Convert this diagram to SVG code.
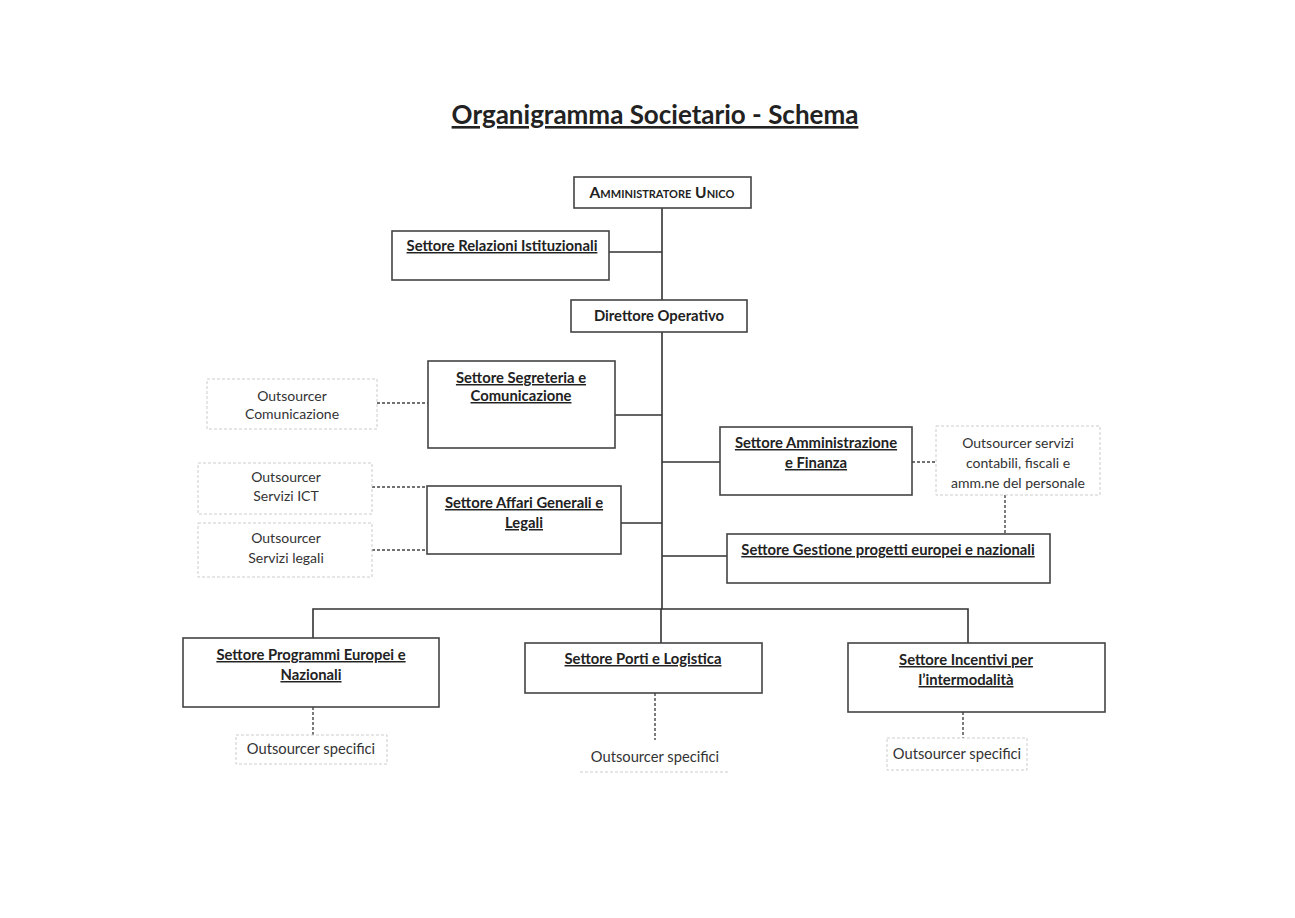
<svg xmlns="http://www.w3.org/2000/svg" width="1295" height="918" viewBox="0 0 1295 918">
<style>
text{font-family:Lato,"Open Sans","Liberation Sans",sans-serif;fill:#222;text-anchor:middle}
.b{font-weight:bold;font-size:14.8px;text-decoration:underline}
.o{font-size:14px;fill:#333}
.s{font-size:14.7px;fill:#333}
.box{fill:#fff;stroke:#444;stroke-width:1.6}
.obox{fill:#fff;stroke:#ccc;stroke-width:1;stroke-dasharray:3 2}
.ln{stroke:#333;stroke-width:1.6;fill:none}
.dl{stroke:#444;stroke-width:1.4;fill:none;stroke-dasharray:3 2}
</style>
<rect width="1295" height="918" fill="#fff"/>
<text x="655" y="124" style="font-weight:bold;font-size:26px;text-decoration:underline">Organigramma Societario - Schema</text>
<g id="connectors">
<path class="ln" d="M662 208V609M609 252H662M615 415H662M621 523H662M662 462H720M662 556H727M313 638V609H968V643M661 609V643"/>
<path class="dl" d="M377 403H428M372 487H428M372 550H428M912 462H937M1005 495V534M313 707V735M655 693V740M963 712V738"/>
</g>
<g id="amministratore"><rect class="box" x="574" y="177" width="177" height="31"/><text x="662" y="198" style="font-weight:bold;font-size:15.5px;font-variant:small-caps">Amministratore Unico</text></g>
<g id="relazioni"><rect class="box" x="392" y="231" width="217" height="49"/><text class="b" x="502" y="251">Settore Relazioni Istituzionali</text></g>
<g id="direttore"><rect class="box" x="571" y="300" width="176" height="32"/><text x="659" y="321" style="font-weight:bold;font-size:14.8px">Direttore Operativo</text></g>
<g id="out-comunicazione"><rect class="obox" x="207" y="379" width="170" height="50"/><text class="o" x="292" y="401">Outsourcer</text><text class="o" x="292" y="419">Comunicazione</text></g>
<g id="segreteria"><rect class="box" x="428" y="361" width="187" height="87"/><text class="b" x="521" y="383">Settore Segreteria e</text><text class="b" x="521" y="401">Comunicazione</text></g>
<g id="out-ict"><rect class="obox" x="198" y="463" width="174" height="51"/><text class="o" x="286" y="482">Outsourcer</text><text class="o" x="286" y="501">Servizi ICT</text></g>
<g id="out-legali"><rect class="obox" x="198" y="523" width="174" height="54"/><text class="o" x="286" y="543">Outsourcer</text><text class="o" x="286" y="563">Servizi legali</text></g>
<g id="affari"><rect class="box" x="427" y="486" width="194" height="68"/><text class="b" x="524" y="508">Settore Affari Generali e</text><text class="b" x="524" y="528">Legali</text></g>
<g id="amministrazione"><rect class="box" x="720" y="427" width="192" height="68"/><text class="b" x="816" y="448">Settore Amministrazione</text><text class="b" x="816" y="468">e Finanza</text></g>
<g id="out-contabili"><rect class="obox" x="936" y="426" width="164" height="69"/><text class="o" x="1018" y="448">Outsourcer servizi</text><text class="o" x="1018" y="468">contabili, fiscali e</text><text class="o" x="1018" y="488">amm.ne del personale</text></g>
<g id="gestione"><rect class="box" x="727" y="534" width="323" height="49"/><text class="b" x="888" y="555">Settore Gestione progetti europei e nazionali</text></g>
<g id="programmi"><rect class="box" x="183" y="638" width="256" height="69"/><text class="b" x="311" y="660">Settore Programmi Europei e</text><text class="b" x="311" y="680">Nazionali</text></g>
<g id="out-spec-1"><rect class="obox" x="236" y="735" width="151" height="29"/><text class="s" x="311" y="754">Outsourcer specifici</text></g>
<g id="porti"><rect class="box" x="525" y="643" width="237" height="50"/><text class="b" x="643" y="664">Settore Porti e Logistica</text></g>
<g id="out-spec-2"><line x1="580" y1="772" x2="730" y2="772" stroke="#ccc" stroke-width="1" stroke-dasharray="3 2"/><text class="s" x="655" y="762">Outsourcer specifici</text></g>
<g id="incentivi"><rect class="box" x="848" y="643" width="257" height="69"/><text class="b" x="966" y="665">Settore Incentivi per</text><text class="b" x="966" y="685">l’intermodalità</text></g>
<g id="out-spec-3"><rect class="obox" x="887" y="738" width="140" height="32"/><text class="s" x="957" y="759">Outsourcer specifici</text></g>
</svg>
